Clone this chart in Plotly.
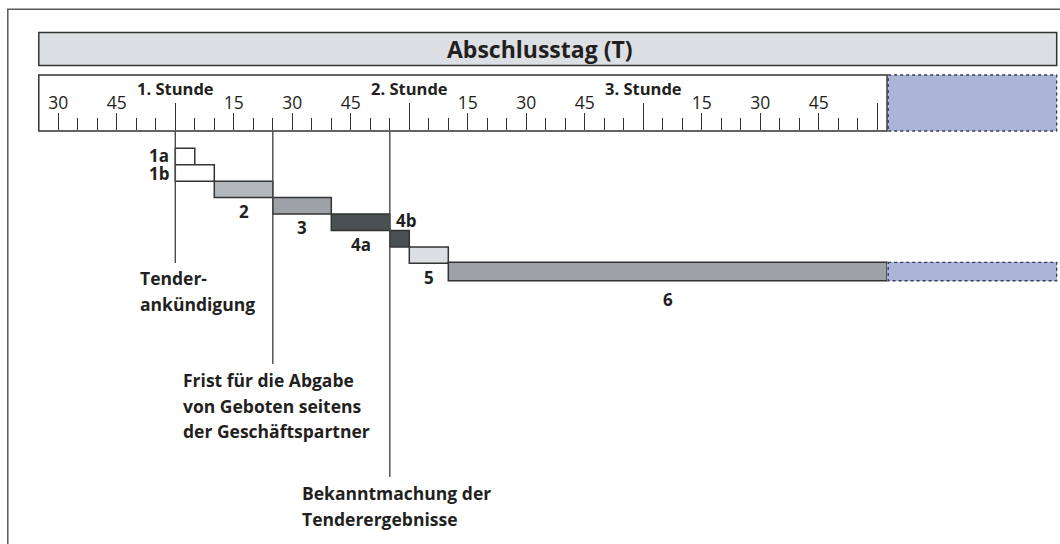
import plotly.graph_objects as go

# ---------------- data ----------------
# minutes counted from hour 0 of the tender-day timeline (60 = "1. Stunde")
phase_labels = ["1a", "1b", "2", "3", "4a", "4b", "5", "6"]
phase_start = [60, 60, 70, 85, 100, 115, 120, 130]
phase_end = [65, 70, 85, 100, 115, 120, 130, 242.5]
phase_colors = ["#ffffff", "#ffffff", "#b3b8bd", "#9ca2a7", "#485052",
                "#485052", "#dcdfe3", "#9ca2a7"]

rest_of_day = [242.5, 286]          # continuation of phase 6 (blue, dotted)

ruler_span = [25, 242.5]            # white ruler
quarter_ticks = [30, 45, 75, 90, 105, 135, 150, 165, 195, 210, 225]
quarter_text = ["30", "45", "15", "30", "45", "15", "30", "45", "15", "30", "45"]
five_min_ticks = [m for m in range(30, 241, 5) if m % 15 != 0]
hour_ticks = [60, 120, 180, 240]
hour_text = ["1. Stunde", "2. Stunde", "3. Stunde", ""]

event_times = [60, 85, 115]
event_text = [
    ["Tender-", "ankündigung"],
    ["Frist für die Abgabe", "von Geboten seitens", "der Geschäftspartner"],
    ["Bekanntmachung der", "Tenderergebnisse"],
]
title_text = "Abschlusstag (T)"

# ---------------- geometry helpers ----------------
W, H = 1060, 544
PX_PER_MIN = 3.9
HOUR1_PX = 175.3
x_range = [60 - HOUR1_PX / PX_PER_MIN, 60 + (W - HOUR1_PX) / PX_PER_MIN]

ROW_TOP, ROW_H = 148.3, 16.43        # pixel row of first phase and row height


def py(y):
    """pixel row -> paper fraction"""
    return 1 - y / H


def px(x):
    return x / W


FONT = "'Open Sans', Lato, sans-serif"
INK = "#231f20"
EDGE = "#333333"

fig = go.Figure()

n = len(phase_labels)
durations = [e - s for s, e in zip(phase_start, phase_end)]
bar_w = [1.0] * (n - 1) + [1.12]
fig.add_trace(go.Bar(
    y=phase_labels, x=durations, base=phase_start, orientation="h",
    width=bar_w, marker=dict(color=phase_colors, line=dict(color=EDGE, width=1.5)),
    hoverinfo="skip", showlegend=False, xaxis="x", yaxis="y"))
fig.add_trace(go.Bar(
    y=[phase_labels[-1]], x=[rest_of_day[1] - rest_of_day[0]], base=[rest_of_day[0]],
    orientation="h", width=1.12, marker=dict(color="#abb4d9", line=dict(width=0)),
    hoverinfo="skip", showlegend=False, xaxis="x", yaxis="y"))

# invisible traces that carry the ruler axes
fig.add_trace(go.Scatter(x=ruler_span, y=[0, 0], mode="markers", marker=dict(opacity=0),
                         hoverinfo="skip", showlegend=False, xaxis="x2", yaxis="y2"))
fig.add_trace(go.Scatter(x=ruler_span, y=[0, 0], mode="markers", marker=dict(opacity=0),
                         hoverinfo="skip", showlegend=False, xaxis="x3", yaxis="y2"))

shapes = []
# outer frame
shapes.append(dict(type="rect", xref="paper", yref="paper", x0=px(7.8), x1=1.05,
                   y0=-0.05, y1=py(9.3), line=dict(color="#5a5a5a", width=1.5),
                   fillcolor="rgba(0,0,0,0)", layer="below"))
# title bar
shapes.append(dict(type="rect", xref="x", yref="paper", x0=ruler_span[0], x1=rest_of_day[1],
                   y0=py(65.5), y1=py(32.5), fillcolor="#dcdfe3",
                   line=dict(color=EDGE, width=1.5), layer="below"))
# ruler
shapes.append(dict(type="rect", xref="x", yref="paper", x0=ruler_span[0], x1=ruler_span[1],
                   y0=py(131), y1=py(75), fillcolor="#ffffff",
                   line=dict(color=EDGE, width=1.5), layer="below"))
shapes.append(dict(type="rect", xref="x", yref="paper", x0=rest_of_day[0] + 0.3, x1=rest_of_day[1],
                   y0=py(131), y1=py(75), fillcolor="#abb4d9",
                   line=dict(color="#333a55", width=1.3, dash="dot"), layer="below"))
# dotted outline of the continuation of phase 6
shapes.append(dict(type="rect", xref="x", yref="y", x0=rest_of_day[0] + 0.3, x1=rest_of_day[1],
                   y0=n - 1 - 0.56, y1=n - 1 + 0.56,
                   line=dict(color="#333a55", width=1.3, dash="dot")))
# event lines
line_bottoms = [263, 364, 477]
for t, yb in zip(event_times, line_bottoms):
    shapes.append(dict(type="line", xref="x", yref="paper", x0=t, x1=t,
                       y0=py(yb), y1=py(131), line=dict(color="#4a4a4a", width=1.4)))

annotations = []
annotations.append(dict(text=title_text, xref="paper", yref="paper", x=px(540), y=py(49),
                        xanchor="center", yanchor="middle", showarrow=False,
                        font=dict(family=FONT, size=23, color=INK, weight="bold")))

# phase labels (y given as the category index)
bold = dict(family=FONT, size=17, color=INK, weight="bold")
for i, (lab, s, e) in enumerate(zip(phase_labels, phase_start, phase_end)):
    if lab in ("1a", "1b"):
        annotations.append(dict(text=lab, xref="x", yref="y", x=s, y=i, xanchor="right",
                                yanchor="middle", xshift=-4, yshift=1 if lab == "1a" else -1,
                                showarrow=False, font=bold))
    elif lab == "4b":
        annotations.append(dict(text=lab, xref="x", yref="y", x=s, y=i, xanchor="left",
                                yanchor="middle", xshift=4, yshift=18, showarrow=False, font=bold))
    else:
        annotations.append(dict(text=lab, xref="x", yref="y", x=(s + e) / 2, y=i,
                                xanchor="center", yanchor="middle",
                                yshift=-28 if lab == "6" else -22, showarrow=False, font=bold))

# event labels
label_first_y = [278, 380, 493]
label_xshift = [-37, -92, -90]
for t, lines, y0, xs in zip(event_times, event_text, label_first_y, label_xshift):
    for i, txt in enumerate(lines):
        annotations.append(dict(text=txt, xref="x", yref="paper", x=t, y=py(y0 + 25.5 * i),
                                xanchor="left", yanchor="middle", xshift=xs, showarrow=False,
                                font=dict(family=FONT, size=17.5, color=INK, weight="bold")))

row_top_px = ROW_TOP - 0.5 * ROW_H
row_bot_px = ROW_TOP + (n + 0.5) * ROW_H

fig.update_layout(
    width=W, height=H, margin=dict(l=0, r=0, t=0, b=0),
    paper_bgcolor="white", plot_bgcolor="rgba(0,0,0,0)",
    bargap=0, barmode="overlay", showlegend=False, hovermode=False,
    xaxis=dict(range=x_range, visible=False, fixedrange=True),
    yaxis=dict(domain=[py(row_bot_px), py(row_top_px)], type="category", range=[n, -1],
               visible=False, fixedrange=True),
    yaxis2=dict(domain=[py(131) - 0.02, py(131)], visible=False, range=[-1, 1]),
    xaxis2=dict(range=x_range, anchor="y2", side="top", showline=False, showgrid=False,
                zeroline=False, ticks="outside", ticklen=17, tickwidth=1.3, tickcolor=EDGE,
                tickmode="array", tickvals=quarter_ticks, ticktext=quarter_text,
                ticklabelstandoff=-3,
                tickfont=dict(family=FONT, size=17.5, color=INK),
                minor=dict(tickvals=five_min_ticks, ticks="outside", ticklen=12,
                           tickwidth=1.3, tickcolor=EDGE, showgrid=False)),
    xaxis3=dict(range=x_range, anchor="y2", overlaying="x2", side="top", showline=False,
                showgrid=False, zeroline=False, ticks="outside", ticklen=27, tickwidth=1.3,
                tickcolor=EDGE, tickmode="array", tickvals=hour_ticks, ticktext=hour_text,
                ticklabelstandoff=1,
                tickfont=dict(family=FONT, size=16.5, color=INK, weight="bold")),
    shapes=shapes, annotations=annotations,
)

# place the figure flush with the window corner (no body margin, no scrollbars)
fig.write_html("out.html",
               config={"displayModeBar": False, "staticPlot": True},
               post_script="document.body.style.margin='0';"
                           "document.body.style.overflow='hidden';"
                           "document.documentElement.style.overflow='hidden';")
